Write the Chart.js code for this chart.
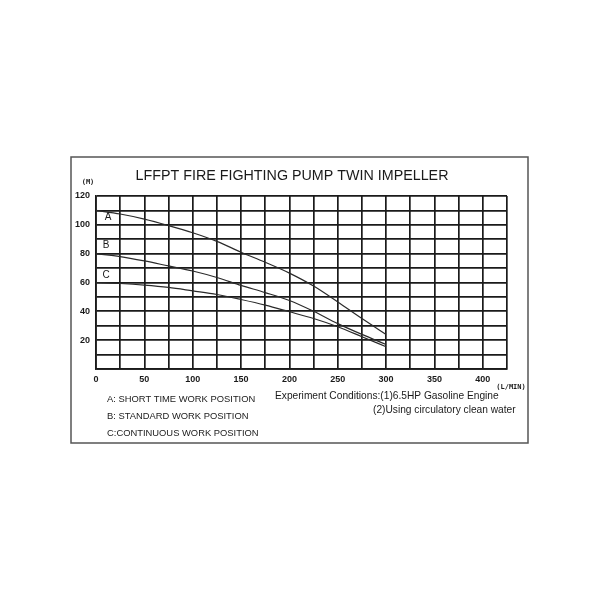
<!DOCTYPE html>
<html>
<head>
<meta charset="utf-8">
<title>LFFPT Fire Fighting Pump Twin Impeller</title>
<script src="https://cdn.jsdelivr.net/npm/chart.js@4.4.1/dist/chart.umd.min.js"></script>
<style>
  html, body { margin: 0; padding: 0; background: #fff; }
  #wrap { width: 600px; height: 600px; }
</style>
</head>
<body>
<div id="wrap"><canvas id="pump-chart" width="600" height="600"></canvas></div>
<script>
// flow (L/MIN) and head (M)
var flow = [0, 25, 50, 75, 100, 125, 150, 175, 200, 225, 250, 275, 300];
var headA = [110, 107.5, 104, 99.5, 94.5, 88.5, 81, 74, 66.5, 57.5, 46.5, 35, 24];
var headB = [80, 78, 75, 71.5, 68, 63.5, 58, 53, 47.5, 40, 31.5, 24, 17];
var headC = [60, 59.3, 58.2, 56.6, 54.2, 51.7, 48.2, 44.3, 39.7, 35, 29.3, 22.4, 15.4];

var xLabels = [0, 50, 100, 150, 200, 250, 300, 350, 400];
var yLabels = [20, 40, 60, 80, 100, 120];

var title = 'LFFPT FIRE FIGHTING PUMP TWIN IMPELLER';
var legendLines = [
    'A: SHORT TIME WORK POSITION',
    'B: STANDARD WORK POSITION',
    'C:CONTINUOUS WORK POSITION'
];
var conditions = [
    'Experiment Conditions:(1)6.5HP Gasoline Engine',
    '(2)Using circulatory clean water'
];

function punti(h) {
    return flow.map(function (f, i) { return {x: f, y: h[i]}; });
}

function serie(h) {
    return {
        data: punti(h),
        borderColor: '#2a2a2a',
        borderWidth: 1.2,
        pointRadius: 0,
        fill: false,
        cubicInterpolationMode: 'monotone'
    };
}

// testi fuori dal grafico: cornice, titolo, legenda, condizioni
var decorazioni = {
    id: 'decorazioni',
    afterDraw: function (chart) {
        var ctx = chart.ctx;
        ctx.save();
        ctx.strokeStyle = '#555';
        ctx.lineWidth = 1.5;
        ctx.strokeRect(71, 157, 457, 286);

        ctx.fillStyle = '#1a1a1a';
        ctx.textBaseline = 'middle';
        ctx.textAlign = 'center';
        ctx.font = '14.3px "Liberation Sans", Arial, sans-serif';
        ctx.fillText(title, 292, 176);

        ctx.font = 'bold 7px "DejaVu Sans Mono", monospace';
        ctx.fillText('(M)', 88, 182);
        ctx.fillText('(L/MIN)', 511, 387);

        ctx.font = '10px "Liberation Sans", Arial, sans-serif';
        ctx.fillText('A', 108, 217);
        ctx.fillText('B', 106, 245);
        ctx.fillText('C', 106, 275);

        ctx.textAlign = 'left';
        ctx.font = '9.4px "Liberation Sans", Arial, sans-serif';
        ctx.fillText(legendLines[0], 107, 399);
        ctx.fillText(legendLines[1], 107, 416);
        ctx.fillText(legendLines[2], 107, 433);

        ctx.font = '10.2px "Liberation Sans", Arial, sans-serif';
        ctx.fillText(conditions[0], 275, 396);
        ctx.fillText(conditions[1], 373, 410);
        ctx.restore();
    }
};

var ctx = document.getElementById('pump-chart').getContext('2d');
var chart = new Chart(ctx, {
    type: 'line',
    data: {
        datasets: [serie(headA), serie(headB), serie(headC)]
    },
    options: {
        responsive: false,
        animation: false,
        layout: {padding: {left: 0, right: 93, top: 196, bottom: 211}},
        plugins: {legend: {display: false}, tooltip: {enabled: false}, title: {display: false}},
        scales: {
            x: {
                type: 'linear',
                min: 0,
                max: 425,
                afterFit: function (s) { s.height = 20; },
                ticks: {
                    stepSize: 25,
                    autoSkip: false,
                    maxRotation: 0,
                    padding: 5,
                    color: '#1a1a1a',
                    font: {family: '"Liberation Sans", Arial, sans-serif', size: 9, weight: 'bold'},
                    callback: function (v) { return xLabels.indexOf(v) >= 0 ? String(v) : ''; }
                },
                grid: {color: '#1a1a1a', lineWidth: 1.7, drawTicks: false},
                border: {color: '#1a1a1a', width: 1.7}
            },
            y: {
                min: 0,
                max: 120,
                afterFit: function (s) { s.width = 96; },
                ticks: {
                    stepSize: 10,
                    autoSkip: false,
                    padding: 6,
                    color: '#1a1a1a',
                    font: {family: '"Liberation Sans", Arial, sans-serif', size: 9, weight: 'bold'},
                    callback: function (v) { return yLabels.indexOf(v) >= 0 ? String(v) : ''; }
                },
                grid: {color: '#1a1a1a', lineWidth: 1.7, drawTicks: false},
                border: {color: '#1a1a1a', width: 1.7}
            }
        }
    },
    plugins: [decorazioni]
});
</script>
</body>
</html>
